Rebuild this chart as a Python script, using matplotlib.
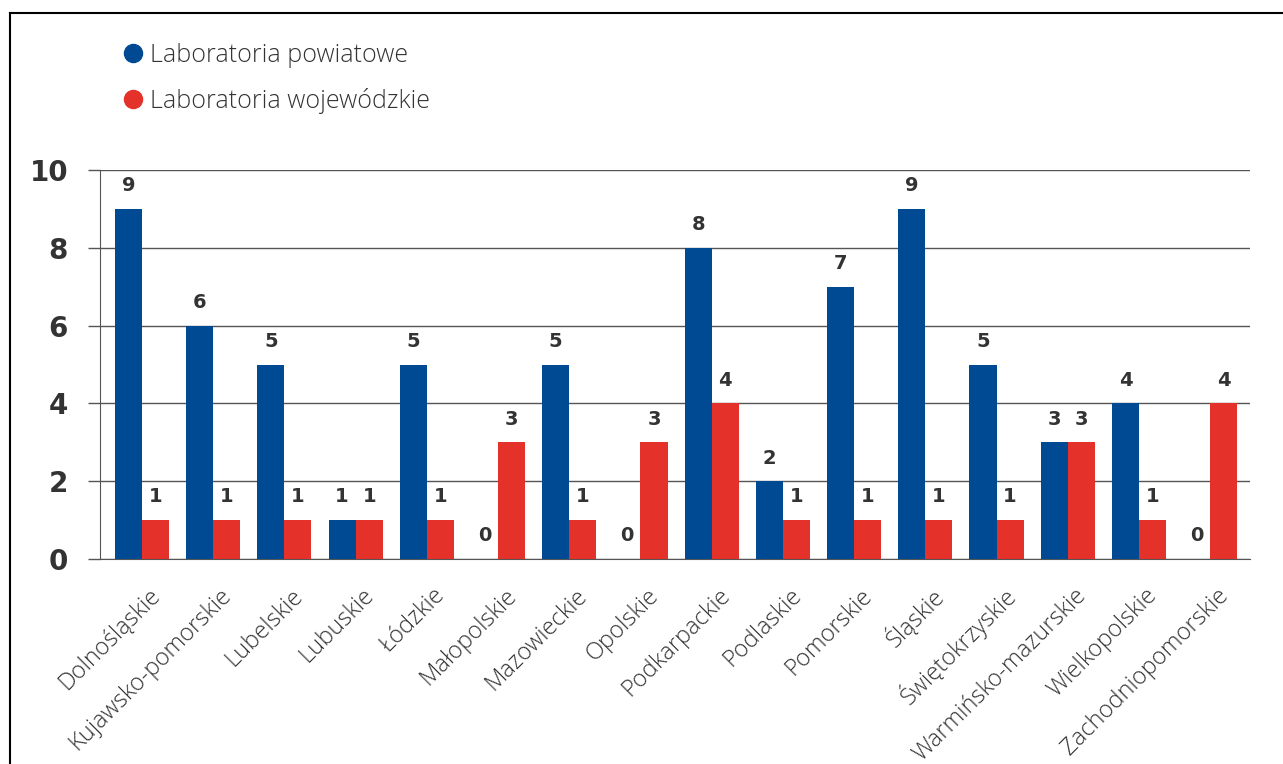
import numpy as np
import matplotlib.pyplot as plt
import matplotlib.transforms as mtransforms
from matplotlib.lines import Line2D

# Dane
regions = ['Dolnośląskie', 'Kujawsko-pomorskie', 'Lubelskie', 'Lubuskie', 'Łódzkie',
           'Małopolskie', 'Mazowieckie', 'Opolskie', 'Podkarpackie', 'Podlaskie',
           'Pomorskie', 'Śląskie', 'Świętokrzyskie', 'Warmińsko-mazurskie',
           'Wielkopolskie', 'Zachodniopomorskie']
powiatowe = [9, 6, 5, 1, 5, 0, 5, 0, 8, 2, 7, 9, 5, 3, 4, 0]
wojewodzkie = [1, 1, 1, 1, 1, 3, 1, 3, 4, 1, 1, 1, 1, 3, 1, 4]
yticks = [0, 2, 4, 6, 8, 10]

blue = '#004a94'
red = '#e4322b'
txt = '#333333'

fig = plt.figure(figsize=(12.83, 7.64), dpi=100)
ax = fig.add_axes([100/1283, 1 - 559/764, 1150/1283, 389/764])

x = np.arange(len(regions))
w = 0.38
ax.bar(x - w/2, powiatowe, w, color=blue, zorder=3)
ax.bar(x + w/2, wojewodzkie, w, color=red, zorder=3)

for xi, v in zip(x - w/2, powiatowe):
    ax.text(xi, v + 0.35, str(v), ha='center', va='bottom', fontsize=14,
            fontweight='bold', color=txt)
for xi, v in zip(x + w/2, wojewodzkie):
    ax.text(xi, v + 0.35, str(v), ha='center', va='bottom', fontsize=14,
            fontweight='bold', color=txt)

ax.set_xlim(-0.59, 15.56)
ax.set_ylim(0, 10)
ax.set_yticks(yticks)
ax.set_yticklabels([str(t) for t in yticks], fontsize=20, fontweight='bold', color=txt)
ax.yaxis.grid(True, color='#555555', linewidth=1)
ax.set_axisbelow(True)
ax.tick_params(axis='y', length=9, width=1, color='#555555', pad=14)
ax.tick_params(axis='x', length=0, pad=0)
ax.set_xticks(x)
ax.set_xticklabels(regions, rotation=45, ha='right', va='center', rotation_mode='anchor',
                   fontsize=17, color=txt, fontfamily='Open Sans', fontweight='light')
offset = mtransforms.ScaledTranslation(15/100, -33/100, fig.dpi_scale_trans)
for lbl in ax.get_xticklabels():
    lbl.set_transform(lbl.get_transform() + offset)
for s in ['top', 'right']:
    ax.spines[s].set_visible(False)
ax.spines['left'].set_color('#555555')
ax.spines['bottom'].set_color('#555555')

# ramka
fig.add_artist(Line2D([10/1283, 10/1283], [0, 1 - 13/764], color='black', lw=1.5))
fig.add_artist(Line2D([10/1283, 1], [1 - 13/764, 1 - 13/764], color='black', lw=1.5))

# legenda
handles = [Line2D([], [], marker='o', ls='', color=blue, markersize=13),
           Line2D([], [], marker='o', ls='', color=red, markersize=13)]
leg = fig.legend(handles, ['Laboratoria powiatowe', 'Laboratoria wojewódzkie'],
                 loc='upper left', bbox_to_anchor=(85/1283, 1 - 20/764), frameon=False,
                 handletextpad=-0.3, labelspacing=0.8,
                 prop={'family': 'Open Sans', 'size': 18, 'weight': 'light'})
for t in leg.get_texts():
    t.set_color(txt)

fig.savefig('out.png', dpi=100)
